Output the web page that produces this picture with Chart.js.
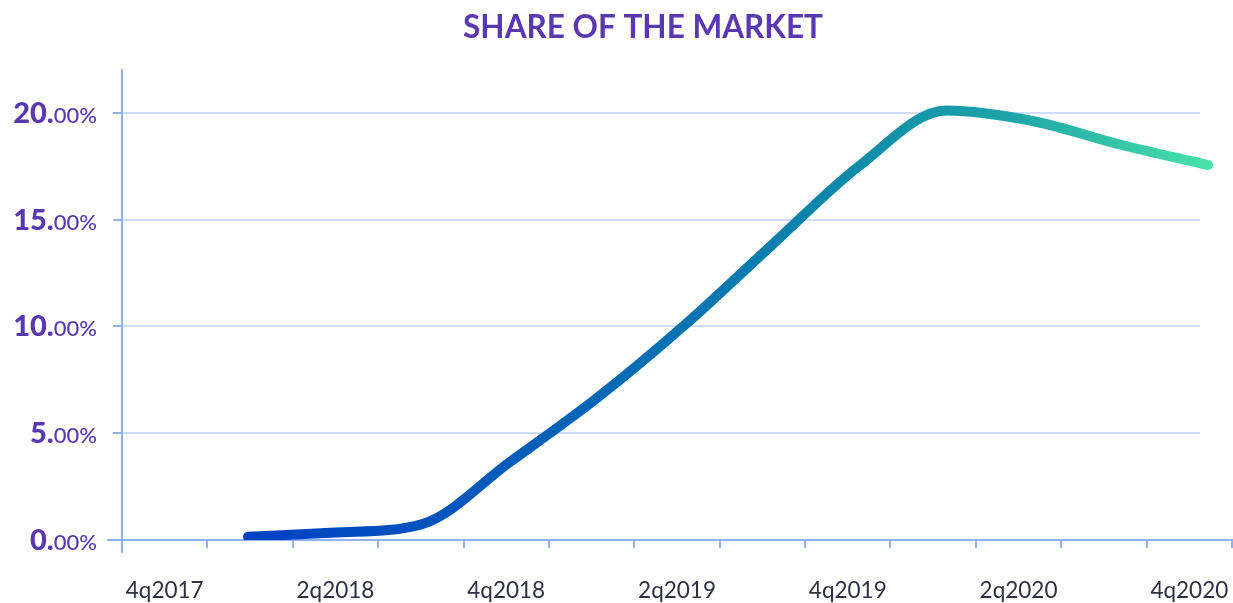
<!DOCTYPE html>
<html>
<head>
<meta charset="utf-8">
<script src="https://cdn.jsdelivr.net/npm/chart.js@4/dist/chart.umd.min.js"></script>
<style>
  html, body { margin: 0; padding: 0; background: #ffffff; }
  #wrap { width: 1233px; height: 603px; position: relative; }
</style>
</head>
<body>
<div id="wrap"><canvas id="c" width="1233" height="603"></canvas></div>
<script>
// ---- data ----
const quarterLabels = ['4q2017','1q2018','2q2018','3q2018','4q2018','1q2019','2q2019','3q2019','4q2019','1q2020','2q2020','3q2020','4q2020'];
const shownLabels = ['4q2017','2q2018','4q2018','2q2019','4q2019','2q2020','4q2020'];
const lineQuarters = ['1q2018','2q2018','3q2018','4q2018','1q2019','2q2019','3q2019','4q2019','1q2020','2q2020','3q2020','4q2020'];
const shareValues = [0.15, 0.35, 0.75, 3.65, 6.65, 10.05, 13.8, 17.5, 20.1, 19.6, 18.5, 17.55];
const yTickValues = [0, 5, 10, 15, 20];
const titleText = 'SHARE OF THE MARKET';

const purple = '#5a38b0';
const axisBlue = '#8fb0fb';
const gridBlue = '#d2ddfd';

const points = shareValues.map((v, i) => ({ x: i, y: v }));

const customPlugin = {
  id: 'custom',
  beforeDatasetsDraw(chart) {
    const c = chart.ctx;
    const y = chart.scales.y;
    const area = chart.chartArea;
    c.save();
    c.strokeStyle = gridBlue;
    c.lineWidth = 2;
    yTickValues.forEach(v => {
      if (v === 0) return;
      const py = Math.round(y.getPixelForValue(v));
      c.beginPath();
      c.moveTo(area.left + 1, py);
      c.lineTo(area.right - 32, py);
      c.stroke();
    });
    c.strokeStyle = axisBlue;
    c.beginPath();
    c.moveTo(area.left, area.bottom);
    c.lineTo(area.left, area.bottom + 13);
    c.stroke();
    c.beginPath();
    c.moveTo(area.left - 15, area.bottom);
    c.lineTo(area.left, area.bottom);
    c.stroke();
    c.restore();
  },
  afterDraw(chart) {
    const c = chart.ctx;
    const y = chart.scales.y;
    const right = 97;
    c.save();
    c.fillStyle = purple;
    c.textBaseline = 'alphabetic';
    c.textAlign = 'right';
    yTickValues.forEach(v => {
      const py = y.getPixelForValue(v) + 10;
      const dec = '00%';
      const intPart = String(v) + '.';
      c.font = '500 22px Lato';
      const w = c.measureText(dec).width;
      c.fillText(dec, right, py);
      c.font = '900 29px Lato';
      c.fillText(intPart, right - w, py);
    });
    c.textAlign = 'center';
    c.textBaseline = 'middle';
    c.font = 'bold 31.5px Lato';
    c.fillText(titleText, 643, 28);
    c.restore();
  }
};

const ctx = document.getElementById('c').getContext('2d');
new Chart(ctx, {
  type: 'line',
  data: {
    labels: quarterLabels,
    datasets: [{
      data: points,
      xAxisID: 'xl',
      yAxisID: 'y',
      borderWidth: 10,
      borderCapStyle: 'round',
      borderJoinStyle: 'round',
      pointRadius: 0,
      cubicInterpolationMode: 'monotone',
      fill: false,
      borderColor: (context) => {
        const chart = context.chart;
        const area = chart.chartArea;
        if (!area) return '#0a8aa8';
        const xs = chart.scales.xl;
        const x0 = xs.getPixelForValue(0);
        const x1 = xs.getPixelForValue(lineQuarters.length - 1);
        const g = chart.ctx.createLinearGradient(x0, 0, x1, 0);
        g.addColorStop(0, '#0040c6');
        g.addColorStop(0.3, '#005fb8');
        g.addColorStop(0.6, '#0a86aa');
        g.addColorStop(0.8, '#1ea6a8');
        g.addColorStop(1, '#48e2a9');
        return g;
      }
    }]
  },
  options: {
    responsive: false,
    animation: false,
    layout: { padding: { left: 0, right: 1, top: 70, bottom: 0 } },
    plugins: {
      legend: { display: false },
      tooltip: { enabled: false },
      title: { display: false }
    },
    scales: {
      x: {
        type: 'category',
        offset: true,
        grid: {
          offset: true,
          drawOnChartArea: false,
          drawTicks: true,
          tickLength: 8,
          color: axisBlue,
          lineWidth: 2
        },
        border: { display: true, color: axisBlue, width: 2 },
        ticks: {
          autoSkip: false,
          maxRotation: 0,
          color: '#2e3042',
          font: { family: 'Lato', size: 22.5 },
          padding: 29,
          callback: function(val, idx) {
            const lab = this.getLabelForValue(val);
            return shownLabels.includes(lab) ? lab : '';
          }
        },
        afterFit(scale) {
          scale.height = 63;
          scale.paddingLeft = 0;
          scale.paddingRight = 0;
        }
      },
      xl: {
        type: 'linear',
        display: false,
        min: -1.444,
        max: 11.274
      },
      y: {
        type: 'linear',
        min: 0,
        max: 22,
        afterBuildTicks(scale) {
          scale.ticks = yTickValues.map(v => ({ value: v }));
        },
        grid: {
          drawOnChartArea: false,
          drawTicks: true,
          tickLength: 9,
          color: axisBlue,
          lineWidth: 2
        },
        border: { display: true, color: axisBlue, width: 2 },
        ticks: { display: false },
        afterFit(scale) {
          scale.width = 122;
          scale.paddingTop = 0;
          scale.paddingBottom = 0;
        }
      }
    }
  },
  plugins: [customPlugin]
});
</script>
</body>
</html>
